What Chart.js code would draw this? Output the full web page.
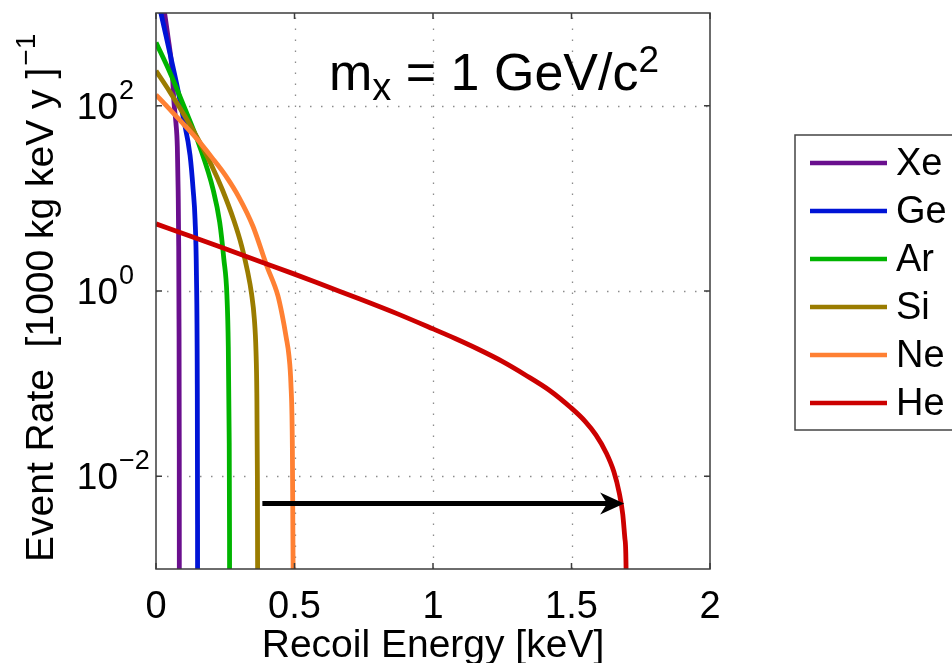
<!DOCTYPE html>
<html>
<head>
<meta charset="utf-8">
<script src="https://cdn.jsdelivr.net/npm/chart.js@4.4.1/dist/chart.umd.min.js"></script>
<style>
  html, body { margin: 0; padding: 0; background: #fff; }
  #wrap { width: 952px; height: 663px; position: relative; }
</style>
</head>
<body>
<div id="wrap"><canvas id="rateChart"></canvas></div>
<script>
const FONT = '"Liberation Sans", Arial, Helvetica, sans-serif';

// targets, legend order
const elements = ['Xe', 'Ge', 'Ar', 'Si', 'Ne', 'He'];
const colors = ['#6a0f8e', '#0014d6', '#00b400', '#9a7c00', '#ff8033', '#cc0000'];

// recoil energy [keV] and event rate
const xeEnergy = [0, 0.0325, 0.043, 0.058, 0.065, 0.072, 0.077, 0.080, 0.082, 0.083, 0.084, 0.0845];
const xeRate   = [4000, 930, 560, 245, 107, 65, 36, 12, 3, 0.5, 0.02, 1e-5];

const geEnergy = [0, 0.02, 0.05, 0.076, 0.097, 0.123, 0.134, 0.141, 0.146, 0.149, 0.150, 0.1505];
const geRate   = [1750, 930, 370, 164, 78, 29, 12.5, 5.9, 1.5, 0.1, 0.003, 1e-5];

const arEnergy = [0, 0.05, 0.097, 0.159, 0.206, 0.23, 0.245, 0.256, 0.261, 0.264, 0.2655, 0.266];
const arRate   = [480, 229, 105, 35.5, 12.5, 5.5, 2.2, 0.9, 0.25, 0.03, 0.002, 1e-5];

const siEnergy = [0, 0.05, 0.1, 0.15, 0.2, 0.24, 0.28, 0.31, 0.33, 0.345, 0.355, 0.361, 0.364, 0.366, 0.367, 0.3675];
const siRate   = [238, 141, 81, 44.7, 22.9, 12.3, 5.9, 3.0, 1.66, 0.93, 0.5, 0.224, 0.079, 0.01, 0.0006, 1e-5];

const neEnergy = [0, 0.05, 0.1, 0.15, 0.2, 0.25, 0.3, 0.35, 0.4, 0.44, 0.455, 0.47, 0.48, 0.487, 0.492, 0.495, 0.4965];
const neRate   = [131, 91, 63, 43, 28, 17.8, 10.2, 5.0, 1.86, 0.89, 0.56, 0.316, 0.2, 0.1, 0.025, 0.001, 1e-5];

const heEnergy = [0, 0.125, 0.25, 0.375, 0.495, 0.62, 0.736, 0.87, 1.0, 1.08, 1.16, 1.25, 1.332, 1.42,
                  1.498, 1.55, 1.588, 1.625, 1.653, 1.672, 1.685, 1.693, 1.697, 1.6995];
const heRate   = [5.3, 3.9, 2.85, 2.08, 1.54, 1.11, 0.82, 0.57, 0.39, 0.307, 0.238, 0.174, 0.125, 0.085,
                  0.055, 0.039, 0.028, 0.018, 0.0112, 0.0067, 0.0039, 0.0021, 0.001, 1e-5];

const seriesEnergy = [xeEnergy, geEnergy, arEnergy, siEnergy, neEnergy, heEnergy];
const seriesRate = [xeRate, geRate, arRate, siRate, neRate, heRate];

// axes
const xTicks = [0, 0.5, 1, 1.5, 2];
const yTicks = [1e-2, 1, 1e2];
const yTickExponents = ['\u22122', '0', '2'];

// arrow: from Si edge to He endpoint
const arrowEnergy = [0.384, 1.69];
const arrowRate = [0.0051, 0.0051];

const datasets = elements.map((name, i) => ({
    label: name,
    data: seriesEnergy[i].map((e, j) => ({ x: e, y: seriesRate[i][j] })),
    borderColor: colors[i],
    backgroundColor: colors[i],
    borderWidth: 4.8,
    pointRadius: 0,
    showLine: true,
    fill: false,
    cubicInterpolationMode: 'monotone',
    order: elements.length - 1 - i
}));

const matlabLook = {
    id: 'matlabLook',
    beforeDatasetsDraw(chart) {
        const { ctx, chartArea: a, scales: { x, y } } = chart;
        ctx.save();
        ctx.strokeStyle = '#8c8c8c';
        ctx.lineWidth = 1.3;
        ctx.setLineDash([1.5, 9.5]);
        xTicks.slice(1, -1).forEach(v => {
            const px = Math.round(x.getPixelForValue(v)) + 0.5;
            ctx.beginPath(); ctx.moveTo(px, a.bottom); ctx.lineTo(px, a.top); ctx.stroke();
        });
        yTicks.forEach(v => {
            const py = Math.round(y.getPixelForValue(v)) + 0.5;
            ctx.beginPath(); ctx.moveTo(a.left, py); ctx.lineTo(a.right, py); ctx.stroke();
        });
        ctx.restore();
    },
    afterDatasetsDraw(chart) {
        const { ctx, chartArea: a, scales: { x, y } } = chart;
        ctx.save();

        // arrow
        const ax1 = x.getPixelForValue(arrowEnergy[0]);
        const ax2 = x.getPixelForValue(arrowEnergy[1]);
        const ay = y.getPixelForValue(arrowRate[0]);
        ctx.strokeStyle = '#000';
        ctx.fillStyle = '#000';
        ctx.lineWidth = 5;
        ctx.beginPath(); ctx.moveTo(ax1, ay); ctx.lineTo(ax2 - 14, ay); ctx.stroke();
        ctx.beginPath();
        ctx.moveTo(ax2, ay);
        ctx.lineTo(ax2 - 24, ay - 11);
        ctx.lineTo(ax2 - 17, ay);
        ctx.lineTo(ax2 - 24, ay + 11);
        ctx.closePath();
        ctx.fill();

        // box and inward ticks
        ctx.strokeStyle = '#3c3c3c';
        ctx.lineWidth = 1.5;
        ctx.strokeRect(a.left, a.top, a.right - a.left, a.bottom - a.top);
        ctx.beginPath();
        xTicks.forEach(v => {
            const px = x.getPixelForValue(v);
            ctx.moveTo(px, a.bottom); ctx.lineTo(px, a.bottom - 6);
            ctx.moveTo(px, a.top); ctx.lineTo(px, a.top + 6);
        });
        yTicks.forEach(v => {
            const py = y.getPixelForValue(v);
            ctx.moveTo(a.left, py); ctx.lineTo(a.left + 6, py);
            ctx.moveTo(a.right, py); ctx.lineTo(a.right - 6, py);
        });
        ctx.stroke();

        // y tick labels with exponents
        ctx.fillStyle = '#000';
        ctx.textBaseline = 'alphabetic';
        yTicks.forEach((v, i) => {
            const py = y.getPixelForValue(v);
            ctx.font = '37px ' + FONT;
            ctx.textAlign = 'right';
            ctx.fillText('10', 118, py + 13);
            ctx.font = '27px ' + FONT;
            ctx.textAlign = 'left';
            ctx.fillText(yTickExponents[i], 119, py - 7);
        });

        // axis titles
        ctx.font = '39px ' + FONT;
        ctx.textAlign = 'center';
        ctx.fillText('Recoil Energy [keV]', (a.left + a.right) / 2, 657);

        ctx.save();
        ctx.translate(53, 562);
        ctx.rotate(-Math.PI / 2);
        ctx.textAlign = 'left';
        ctx.font = '39px ' + FONT;
        const yTitle = 'Event Rate  [1000 kg keV y ]';
        ctx.fillText(yTitle, 0, 0);
        const tw = ctx.measureText(yTitle).width;
        ctx.font = '28px ' + FONT;
        ctx.fillText('\u22121', tw + 2, -18);
        ctx.restore();

        // mass annotation
        let tx = 329;
        const tb = 90;
        ctx.textAlign = 'left';
        const parts = [['m', 52, 0], ['x', 38, 10], [' = 1 GeV/c', 52, 0], ['2', 37, -18]];
        parts.forEach(([t, size, dy]) => {
            ctx.font = size + 'px ' + FONT;
            ctx.fillText(t, tx, tb + dy);
            tx += ctx.measureText(t).width;
        });

        // legend box
        ctx.strokeStyle = '#444';
        ctx.lineWidth = 1.5;
        ctx.strokeRect(795, 135, 220, 295);
        chart.data.datasets.forEach((ds, i) => {
            const ly = 163 + 48 * i;
            ctx.strokeStyle = ds.borderColor;
            ctx.lineWidth = 4.5;
            ctx.beginPath(); ctx.moveTo(810, ly); ctx.lineTo(887, ly); ctx.stroke();
            ctx.fillStyle = '#000';
            ctx.font = '38px ' + FONT;
            ctx.textBaseline = 'middle';
            ctx.fillText(ds.label, 896, ly + 2);
        });
        ctx.restore();
    }
};

new Chart(document.getElementById('rateChart'), {
    type: 'scatter',
    data: { datasets: datasets },
    options: {
        responsive: true,
        maintainAspectRatio: false,
        animation: false,
        layout: { padding: { top: 13, right: 242, left: 0, bottom: 0 } },
        plugins: { legend: { display: false }, tooltip: { enabled: false } },
        scales: {
            x: {
                type: 'linear',
                min: 0,
                max: 2,
                afterBuildTicks: s => { s.ticks = xTicks.map(v => ({ value: v })); },
                afterFit: s => { s.height = 94; },
                ticks: {
                    autoSkip: false,
                    maxRotation: 0,
                    padding: 16,
                    color: '#000',
                    font: { family: FONT, size: 38 },
                    callback: v => String(v)
                },
                grid: { display: false, drawTicks: false },
                border: { display: false }
            },
            y: {
                type: 'logarithmic',
                min: 1e-3,
                max: 1e3,
                afterBuildTicks: s => { s.ticks = yTicks.map(v => ({ value: v })); },
                afterFit: s => { s.width = 156; },
                ticks: { display: false },
                grid: { display: false, drawTicks: false },
                border: { display: false }
            }
        }
    },
    plugins: [matlabLook]
});
</script>
</body>
</html>
